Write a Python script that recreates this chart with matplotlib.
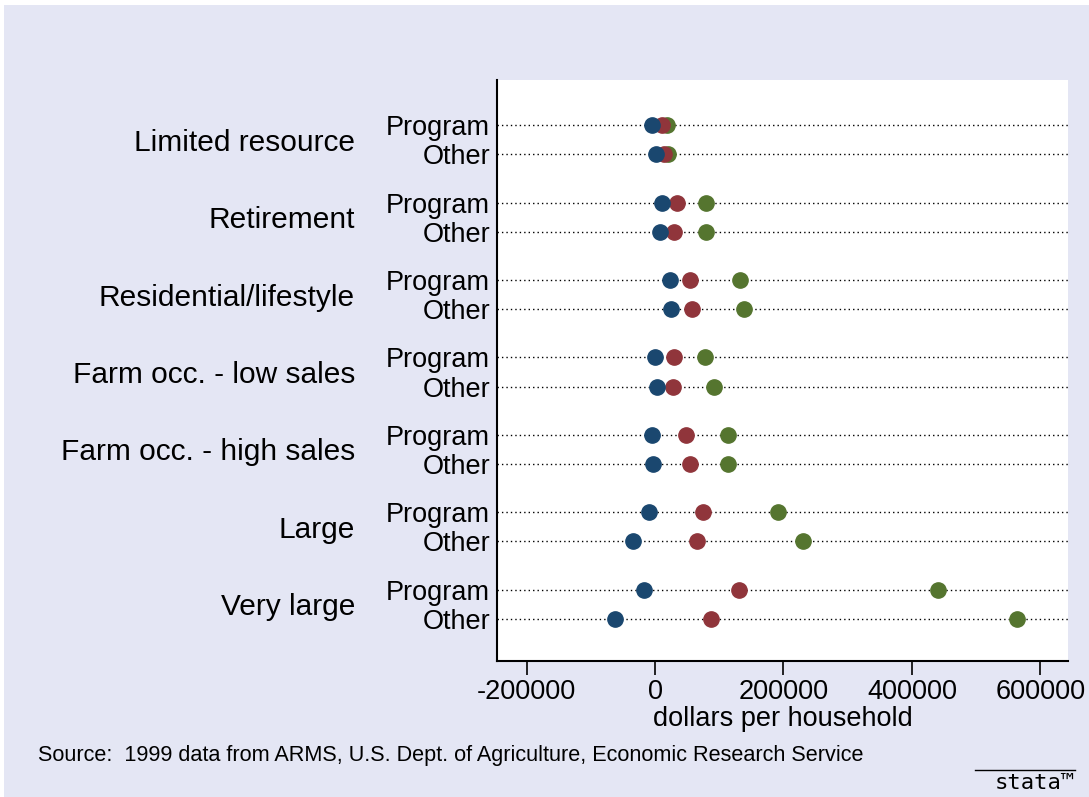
import numpy as np
import matplotlib
matplotlib.use('Agg')
import matplotlib.pyplot as plt
from matplotlib.transforms import blended_transform_factory
from matplotlib.patches import Rectangle
from matplotlib.lines import Line2D

# group / row labels
groups = ['Limited resource', 'Retirement', 'Residential/lifestyle',
          'Farm occ. - low sales', 'Farm occ. - high sales', 'Large', 'Very large']
subgroups = ['Program', 'Other']

# values, order: group1 Program, group1 Other, group2 Program, ...
blue_vals = [-5000, 1000, 11000, 8000, 24000, 25000, -500, 2500,
             -4500, -2500, -10000, -34000, -17000, -62000]
red_vals = [11000, 14500, 35000, 30000, 54000, 58000, 29000, 27500,
            48000, 55000, 74000, 65000, 130000, 87000]
green_vals = [19000, 21000, 80000, 79000, 133000, 139000, 78000, 92000,
              113000, 113000, 191000, 230000, 441000, 563000]

x_ticks = [-200000, 0, 200000, 400000, 600000]

bg = '#E4E6F4'
col_blue = '#1a476f'
col_red = '#90353b'
col_green = '#55752f'

plt.rcParams['font.family'] = ['Liberation Sans', 'DejaVu Sans']

fig = plt.figure(figsize=(10.89, 7.97), dpi=100)
fig.patch.set_facecolor('white')
fig.patches.append(Rectangle((4 / 1089, 0), 1 - 4 / 1089, 1 - 5 / 797,
                             transform=fig.transFigure, facecolor=bg,
                             edgecolor='none', zorder=-10))

ax = fig.add_axes([497 / 1089, 1 - 661 / 797, 571 / 1089, 581 / 797])
ax.set_facecolor('white')

# row positions: within-group gap 1, between groups a bit more
gap = 2.672
pos = []
labels = []
for gi, g in enumerate(groups):
    for si, s in enumerate(subgroups):
        pos.append(gi * gap + si)
        labels.append(s)
pos = np.array(pos)

for y in pos:
    ax.axhline(y, color='black', linestyle=(0, (1, 2.2)), linewidth=1.0, zorder=1)

ax.plot(green_vals, pos, 'o', color=col_green, markersize=11, zorder=3)
ax.plot(red_vals, pos, 'o', color=col_red, markersize=11, zorder=4)
ax.plot(blue_vals, pos, 'o', color=col_blue, markersize=11, zorder=5)

ax.set_xlim(-246000, 643000)
ax.set_ylim(pos[-1] + 42 / 29, pos[0] - 45 / 29)

ax.set_yticks(pos)
ax.set_yticklabels(labels, fontsize=19.5)
ax.tick_params(axis='y', length=0, pad=5)
ax.set_xticks(x_ticks)
ax.set_xticklabels([str(t) for t in x_ticks], fontsize=19.5)
ax.tick_params(axis='x', length=10, width=1.2, pad=3)
ax.set_xlabel('dollars per household', fontsize=19.5, labelpad=1)

for s in ['top', 'right']:
    ax.spines[s].set_visible(False)
for s in ['left', 'bottom']:
    ax.spines[s].set_linewidth(1.5)

# group labels to the left of the row labels
trans = blended_transform_factory(ax.transAxes, ax.transData)
for gi, g in enumerate(groups):
    ax.text(-0.2487, gi * gap + 0.5, g, transform=trans, ha='right',
            va='center_baseline', fontsize=21.5)

fig.text(38 / 1089, 1 - 756 / 797, 'Source:  1999 data from ARMS, U.S. Dept. of Agriculture, Economic Research Service',
         ha='left', va='center', fontsize=15.6)

# stata mark in the corner
fig.text(1075 / 1089, 1 - 783 / 797, 'stata\u2122', ha='right', va='center',
         fontsize=16, family='DejaVu Sans Mono')
fig.lines.append(Line2D([975 / 1089, 1075 / 1089], [1 - 770 / 797, 1 - 770 / 797],
                        transform=fig.transFigure, color='black', linewidth=1))

fig.savefig('out.png', dpi=100, facecolor=fig.get_facecolor())
